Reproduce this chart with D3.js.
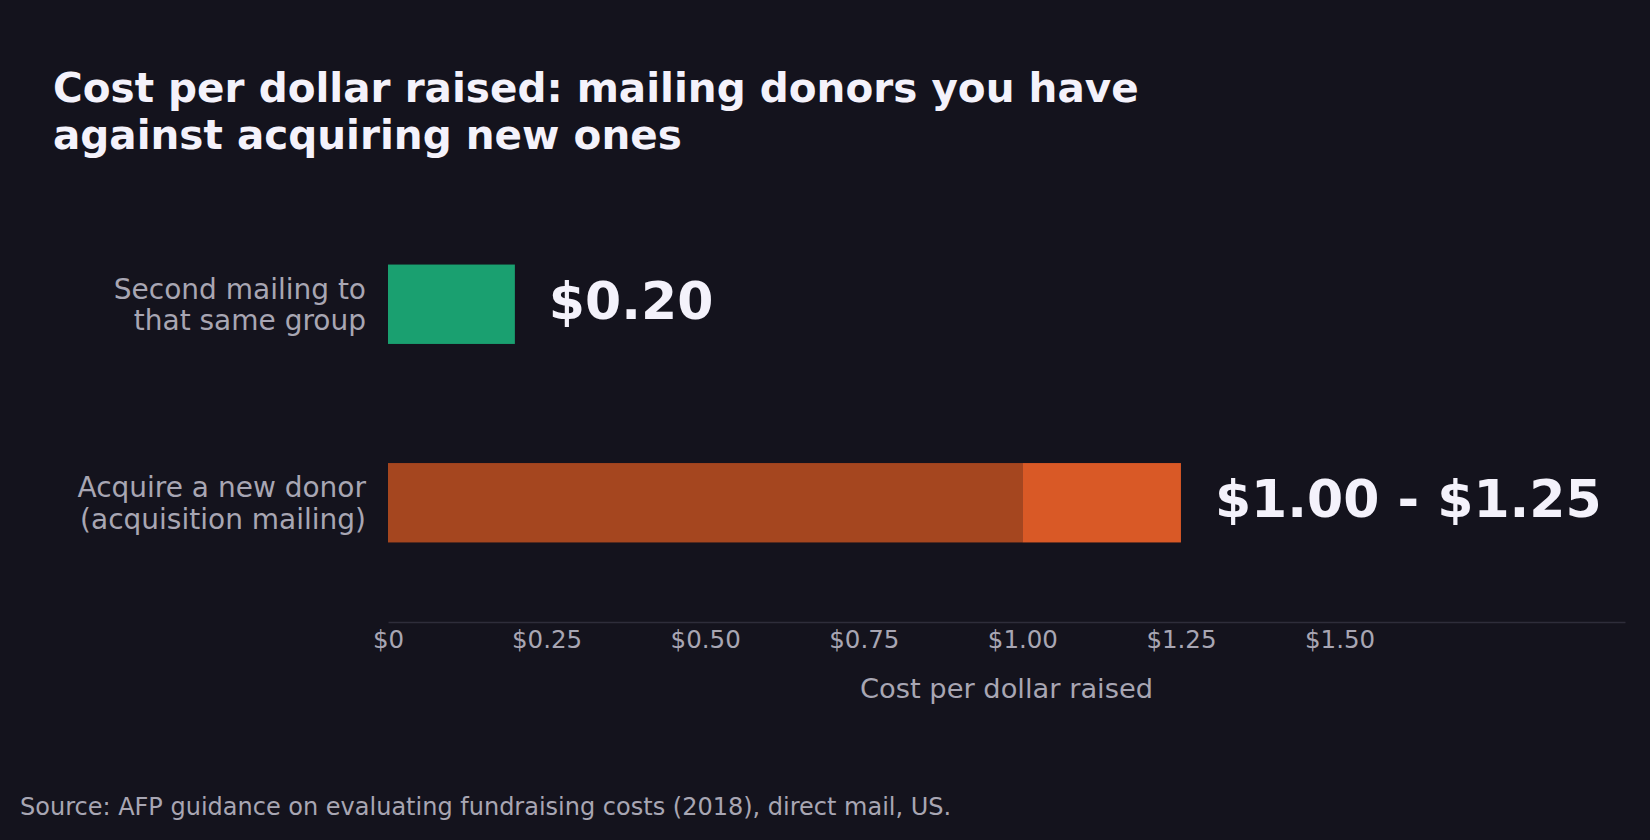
<!DOCTYPE html>
<html><head><meta charset="utf-8">
<script src="https://cdn.jsdelivr.net/npm/d3@7"></script>
<style>
html,body{margin:0;padding:0;background:#14131d;}
svg{display:block;}
</style></head>
<body>
<svg id="c" width="1650" height="840"></svg>
<script>
const titleLines = ["Cost per dollar raised: mailing donors you have", "against acquiring new ones"];
const categories = [["Second mailing to", "that same group"], ["Acquire a new donor", "(acquisition mailing)"]];
const lowValues = [0.20, 1.00];
const highValues = [0.20, 1.25];
const valueLabels = ["$0.20", "$1.00 - $1.25"];
const tickValues = [0, 0.25, 0.5, 0.75, 1.0, 1.25, 1.5];
const tickLabels = ["$0", "$0.25", "$0.50", "$0.75", "$1.00", "$1.25", "$1.50"];
const axisTitle = "Cost per dollar raised";
const sourceText = "Source: AFP guidance on evaluating fundraising costs (2018), direct mail, US.";

const W = 1650, H = 840;
const svg = d3.select("#c");
const font = "'DejaVu Sans', sans-serif";
svg.append("rect").attr("width", W).attr("height", H).attr("fill", "#14131d");

const x = d3.scaleLinear().domain([0, 1.95]).range([388, 1625]);
const y = d3.scaleBand().domain(d3.range(categories.length)).range([205, 602]).paddingInner(0.6).paddingOuter(0.3);

// title
svg.append("text").attr("x", 53).attr("y", 102).attr("font-family", font).attr("font-weight", "bold")
  .attr("font-size", 40.5).attr("fill", "#f4f2fb")
  .selectAll("tspan").data(titleLines).join("tspan")
  .attr("x", 53).attr("dy", (d, i) => i ? 46.5 : 0).text(d => d);

// bars
const g = svg.append("g");
g.selectAll("rect.low").data(lowValues).join("rect").attr("class", "low")
  .attr("x", x(0)).attr("y", (d, i) => y(i)).attr("height", y.bandwidth())
  .attr("width", d => x(d) - x(0))
  .attr("fill", (d, i) => i === 0 ? "#1aa070" : "#a5461f");
g.selectAll("rect.high").data(highValues).join("rect").attr("class", "high")
  .attr("x", (d, i) => x(lowValues[i])).attr("y", (d, i) => y(i)).attr("height", y.bandwidth())
  .attr("width", (d, i) => x(d) - x(lowValues[i]))
  .attr("fill", "#d95926");

// value labels
g.selectAll("text.val").data(valueLabels).join("text").attr("class", "val")
  .attr("x", (d, i) => x(highValues[i]) + 34)
  .attr("y", (d, i) => y(i) + y.bandwidth() / 2)
  .attr("dy", "0.28em")
  .attr("font-family", font).attr("font-weight", "bold").attr("font-size", 52)
  .attr("fill", "#f4f2fb").text(d => d);

// category labels
const cl = g.selectAll("text.cat").data(categories).join("text").attr("class", "cat")
  .attr("text-anchor", "end")
  .attr("font-family", font).attr("font-size", 28).attr("fill", "#a8a6b3")
  .attr("y", (d, i) => y(i) + y.bandwidth() / 2);
cl.selectAll("tspan").data(d => d).join("tspan")
  .attr("x", 366).attr("dy", (d, i) => i ? "1.13em" : "-0.2em").text(d => d);

// axis
const axisY = 622;
const ax = svg.append("g").attr("transform", `translate(0,${axisY})`)
  .call(d3.axisBottom(x).tickValues(tickValues).tickFormat((d, i) => tickLabels[i]).tickSize(0).tickPadding(9));
ax.select(".domain").attr("stroke", "#2e2d3a").attr("stroke-width", 1.5);
ax.selectAll("text").attr("font-family", font).attr("font-size", 24.5).attr("fill", "#a8a6b3");

svg.append("text").attr("x", (x.range()[0] + x.range()[1]) / 2).attr("y", 698)
  .attr("text-anchor", "middle").attr("font-family", font).attr("font-size", 27.3)
  .attr("fill", "#a8a6b3").text(axisTitle);

svg.append("text").attr("x", 20).attr("y", 815).attr("font-family", font).attr("font-size", 24)
  .attr("fill", "#a8a6b3").text(sourceText);
</script>
</body></html>
